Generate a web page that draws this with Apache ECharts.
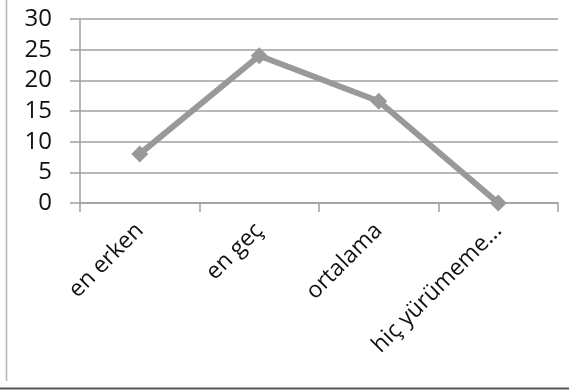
<!DOCTYPE html>
<html>
<head>
<meta charset="utf-8">
<script src="https://cdn.jsdelivr.net/npm/echarts@6/dist/echarts.min.js"></script>
<style>
  html, body { margin: 0; padding: 0; background: #fff; }
  #chart { width: 569px; height: 392px; }
</style>
</head>
<body>
<div id="chart"></div>
<script>
// Walking-age summary: earliest, latest, average and never-walked counts
const categories = ['en erken', 'en geç', 'ortalama', 'hiç yürümeme...'];
const values = [8, 24, 16.6, 0];
const yTicks = { min: 0, max: 30, interval: 5 };

const chart = echarts.init(document.getElementById('chart'), null, { renderer: 'canvas' });
const font = '"Open Sans", "DejaVu Sans", sans-serif';

chart.setOption({
  animation: false,
  backgroundColor: '#ffffff',
  grid: { left: 80, right: 11, top: 19, bottom: 189, containLabel: false },
  xAxis: {
    type: 'category',
    data: categories,
    boundaryGap: true,
    axisLine: { show: true, lineStyle: { color: '#a0a0a0', width: 1.5 } },
    axisTick: { show: true, length: 9, alignWithLabel: false, lineStyle: { color: '#a0a0a0', width: 1.5 } },
    axisLabel: {
      rotate: 45,
      margin: 24,
      interval: 0,
      color: '#111',
      fontSize: 23,
      fontFamily: font
    },
    splitLine: { show: false }
  },
  yAxis: {
    type: 'value',
    min: yTicks.min,
    max: yTicks.max,
    interval: yTicks.interval,
    axisLine: { show: true, lineStyle: { color: '#a0a0a0', width: 1.5 } },
    axisTick: { show: true, length: 10, lineStyle: { color: '#a0a0a0', width: 1.5 } },
    axisLabel: {
      margin: 28,
      color: '#111',
      fontSize: 24,
      fontFamily: font
    },
    splitLine: { show: true, lineStyle: { color: '#a0a0a0', width: 1.5 } }
  },
  series: [{
    type: 'line',
    data: values,
    symbol: 'diamond',
    symbolSize: 17,
    lineStyle: { color: '#999999', width: 6 },
    itemStyle: { color: '#999999' }
  }],
  graphic: [
    { type: 'line', shape: { x1: 6.5, y1: 0, x2: 6.5, y2: 381 }, style: { stroke: '#b4b4b4', lineWidth: 1.5 } },
    { type: 'line', shape: { x1: 0, y1: 388.5, x2: 569, y2: 388.5 }, style: { stroke: '#555555', lineWidth: 2 } }
  ]
});
</script>
</body>
</html>
